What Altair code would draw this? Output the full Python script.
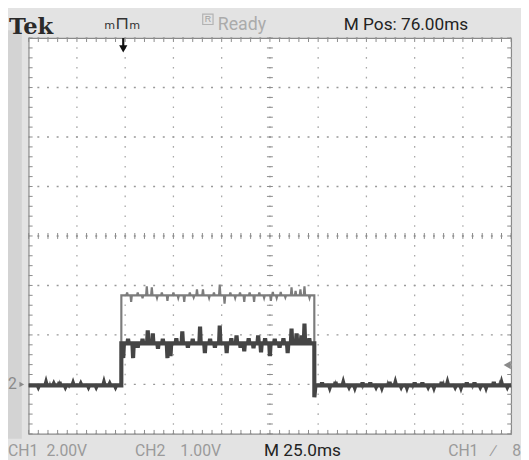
import altair as alt
import pandas as pd

# ---------------- values read from the screen ----------------
# time in ms relative to the trigger (M Pos 76.00ms, 25.0 ms/div)
t_left, t_right = -49.0, 201.0
x_div_times = [-49, -24, 1, 26, 51, 76, 101, 126, 151, 176, 201]
y_div_levels = [-1, 0, 1, 2, 3, 4, 5, 6, 7]   # vertical divisions, 0 = ground of CH2

t_rise = -1.0
t_fall = 99.0

ch1_low = -0.03
ch1_high = 1.80
ch1_under = -0.20
ch1_spike_t = [2.0, 4.1, 7.5, 10.0, 12.2, 14.8, 17.5, 20.0, 22.9, 26.0, 28.5, 31.6, 34.5, 36.5, 38.2, 41.3,
               44.5, 47.0, 50.0, 52.5, 55.5, 58.0, 60.5, 62.7, 65.5, 67.8, 70.5, 73.0, 76.5, 77.5, 79.5,
               81.6, 84.0, 87.2, 89.3, 91.8, 93.9, 96.5]
ch1_spike_v = [1.86, 1.67, 1.86, 1.74, 1.98, 1.96, 1.75, 1.86, 1.69, 1.86, 1.75, 1.67, 1.86, 1.76, 1.92, 1.92,
               1.75, 1.86, 2.02, 1.63, 1.86, 1.75, 1.86, 1.67, 1.86, 1.67, 1.86, 1.75, 1.69, 1.87, 1.75,
               1.87, 1.76, 1.96, 1.89, 1.92, 1.98, 1.75]
ch1_base_t = [-38, -33, -28, 110, 124, 137, 150, 166, 181, 195]
ch1_base_v = [0.01, 0.02, -0.05, 0.02, -0.06, 0.02, -0.06, 0.02, -0.06, 0.02]

ch2_low = -0.02
ch2_high = 0.83
ch2_under = -0.26
ch2_spike_t = [0.0, 2.5, 5.1, 7.5, 10.0, 12.7, 15.3, 18.0, 20.5, 22.9, 24.5, 27.5, 30.6, 33.5, 36.0, 39.8,
               42.3, 45.0, 47.5, 50.0, 53.6, 56.0, 58.7, 60.8, 62.7, 65.0, 67.5, 69.9, 71.4, 73.5, 76.0,
               78.5, 81.0, 83.0, 85.2, 87.2, 89.8, 92.3, 93.9, 96.4]
ch2_spike_v = [0.53, 0.92, 0.53, 0.74, 0.92, 1.09, 1.03, 0.72, 0.92, 0.53, 0.57, 0.93, 1.07, 0.74, 0.92, 1.17,
               0.63, 0.92, 0.74, 1.19, 0.63, 0.93, 0.99, 0.74, 0.67, 0.93, 0.73, 0.99, 0.65, 0.93, 0.57,
               0.92, 0.74, 0.93, 0.63, 1.13, 1.03, 0.99, 1.23, 0.93]
ch2_base_t = [-44, -40, -36, -33, -30, -26, -22, -18, -14, -10, -7, -4, 103, 107, 110, 114, 117, 120, 124, 128,
              131, 134, 138, 141, 144, 147, 151, 155, 158, 161, 165, 168, 172, 175, 178, 182, 185, 188, 192,
              196, 199]
ch2_base_v = [-0.05, 0.03, 0.01, 0.05, -0.05, 0.02, 0.01, -0.05, -0.05, 0.03, 0.01, -0.05, 0.04, -0.06, 0.05,
              0.03, -0.05, -0.06, 0.04, 0.04, -0.05, -0.06, 0.05, 0.03, -0.05, -0.06, 0.04, 0.04, -0.05,
              -0.06, 0.05, 0.03, -0.05, -0.06, 0.04, 0.04, -0.05, -0.06, 0.05, 0.03, -0.05]

trig_level = 0.39

top_labels = ["Tek", "Ready", "M Pos: 76.00ms"]
bottom_labels = ["CH1", "2.00V", "CH2", "1.00V", "M 25.0ms", "CH1", "\u2215", "8"]

# ---------------- build traces ----------------
def build(low, high, under, sp_t, sp_v, b_t, b_v):
    pts = [(t_left, low), (t_rise, low), (t_rise + 0.02, high),
           (t_fall, high), (t_fall + 0.02, under), (t_fall + 0.6, low), (t_right, low)]
    for t, v in list(zip(sp_t, sp_v)) + list(zip(b_t, b_v)):
        lvl = high if t_rise < t < t_fall else low
        pts += [(t - 0.35, lvl), (t, v), (t + 0.35, lvl)]
    pts.sort(key=lambda p: p[0])
    return pd.DataFrame({"t": [p[0] for p in pts], "v": [p[1] for p in pts],
                         "i": list(range(len(pts)))})

ch1 = build(ch1_low, ch1_high, ch1_under, ch1_spike_t, ch1_spike_v, ch1_base_t, ch1_base_v)
ch2 = build(ch2_low, ch2_high, ch2_under, ch2_spike_t, ch2_spike_v, ch2_base_t, ch2_base_v)

W, H = 490, 402
xs = alt.Scale(domain=[t_left, t_right], nice=False, zero=False)
ys = alt.Scale(domain=[-1, 7], nice=False, zero=False)

# graticule
vgrid = alt.Chart(pd.DataFrame({"t": x_div_times})).mark_rule(
    color="#a8a8a8", strokeWidth=1.3, strokeDash=[1.6, 8.45], strokeDashOffset=0.8).encode(
    x=alt.X("t:Q", scale=xs, axis=None), y=alt.value(0), y2=alt.value(H))
hgrid = alt.Chart(pd.DataFrame({"d": y_div_levels})).mark_rule(
    color="#999999", strokeWidth=1.4, strokeDash=[2.0, 7.8], strokeDashOffset=1.0).encode(
    y=alt.Y("d:Q", scale=ys, axis=None), x=alt.value(0), x2=alt.value(W))

# minor tick positions (every 1/5 division)
xminor = pd.DataFrame({"t": [t_left + 5 * k for k in range(51)]})
yminor = pd.DataFrame({"d": [-1 + 0.2 * k for k in range(41)]})

tick_col = "#8a8a8a"
xt = alt.Chart(xminor)
yt = alt.Chart(yminor)
ticks = [
    xt.mark_rule(color=tick_col).encode(x=alt.X("t:Q", scale=xs, axis=None), y=alt.value(H), y2=alt.value(H - 4)),
    xt.mark_rule(color=tick_col).encode(x=alt.X("t:Q", scale=xs, axis=None), y=alt.value(0), y2=alt.value(4)),
    xt.mark_rule(color=tick_col).encode(x=alt.X("t:Q", scale=xs, axis=None), y=alt.value(H / 2 - 3), y2=alt.value(H / 2 + 3)),
    yt.mark_rule(color=tick_col).encode(y=alt.Y("d:Q", scale=ys, axis=None), x=alt.value(0), x2=alt.value(4)),
    yt.mark_rule(color=tick_col).encode(y=alt.Y("d:Q", scale=ys, axis=None), x=alt.value(W - 4), x2=alt.value(W)),
    yt.mark_rule(color=tick_col).encode(y=alt.Y("d:Q", scale=ys, axis=None), x=alt.value(W / 2 - 3), x2=alt.value(W / 2 + 3)),
]

one = pd.DataFrame({"a": [0]})
strip = alt.Chart(one).mark_rect(color="#d3d3d3").encode(
    x=alt.value(-21), x2=alt.value(-7), y=alt.value(-8), y2=alt.value(H + 5))

trace1 = alt.Chart(ch1).mark_line(color="#7c7c7c", strokeWidth=2.2).encode(
    x=alt.X("t:Q", scale=xs, axis=None), y=alt.Y("v:Q", scale=ys, axis=None), order="i:Q")
trace2 = alt.Chart(ch2).mark_line(color="#454545", strokeWidth=4.2).encode(
    x=alt.X("t:Q", scale=xs, axis=None), y=alt.Y("v:Q", scale=ys, axis=None), order="i:Q")

font = "Roboto, Liberation Sans"
txt = []
txt.append(alt.Chart(one).mark_text(text=top_labels[0], font="DejaVu Serif", fontWeight="bold",
                                    fontSize=23, align="left", color="#2a2a2a")
           .encode(x=alt.value(-20), y=alt.value(-11)))
txt.append(alt.Chart(one).mark_text(text="\u2098\u2293\u2098", font="DejaVu Sans", fontSize=18,
                                    align="center", color="#333333")
           .encode(x=alt.value(95), y=alt.value(-14)))
txt.append(alt.Chart(one).mark_point(shape="square", size=110, filled=False, color="#a0a0a0", strokeWidth=1.2)
           .encode(x=alt.value(182), y=alt.value(-19)))
txt.append(alt.Chart(one).mark_text(text="R", font="Liberation Sans", fontSize=9,
                                    align="center", baseline="middle", color="#a0a0a0")
           .encode(x=alt.value(182), y=alt.value(-19)))
txt.append(alt.Chart(one).mark_text(text=top_labels[1], font=font, fontSize=18,
                                    align="left", color="#ababab")
           .encode(x=alt.value(192), y=alt.value(-13)))
txt.append(alt.Chart(one).mark_text(text=top_labels[2], font=font, fontSize=17.5,
                                    align="left", color="#222222")
           .encode(x=alt.value(320), y=alt.value(-13)))
bx = [-21, 18, 108, 154, 239, 426, 471, 491]
bsize = [16, 16, 16, 16, 17.5, 16, 16, 16]
bcol = ["#9a9a9a", "#9a9a9a", "#9a9a9a", "#9a9a9a", "#222222", "#9a9a9a", "#9a9a9a", "#9a9a9a"]
for lab, x0, c, fs in zip(bottom_labels, bx, bcol, bsize):
    txt.append(alt.Chart(one).mark_text(text=lab, font=font, fontSize=fs, align="left", color=c)
               .encode(x=alt.value(x0), y=alt.value(H + 17)))

# trigger position arrow at t = 0
trig = pd.DataFrame({"t": [0.0]})
txt.append(alt.Chart(trig).mark_rule(color="#111111", strokeWidth=2.2).encode(
    x=alt.X("t:Q", scale=xs, axis=None), y=alt.value(0), y2=alt.value(9)))
txt.append(alt.Chart(trig).mark_point(shape="triangle-down", size=70, filled=True, color="#111111", opacity=1).encode(
    x=alt.X("t:Q", scale=xs, axis=None), y=alt.value(11)))
# ground marker for CH2
gnd = pd.DataFrame({"v": [0.0]})
txt.append(alt.Chart(gnd).mark_text(text="2", font=font, fontSize=16, align="left", baseline="middle",
                                    color="#8a8a8a").encode(
    x=alt.value(-21), y=alt.Y("v:Q", scale=ys, axis=None)))
txt.append(alt.Chart(gnd).mark_point(shape="triangle-right", size=30, filled=True, color="#8a8a8a", opacity=1).encode(
    x=alt.value(-7), y=alt.Y("v:Q", scale=ys, axis=None)))
# trigger level marker
tl = pd.DataFrame({"v": [trig_level]})
txt.append(alt.Chart(tl).mark_point(shape="triangle-left", size=70, filled=True, color="#8a8a8a", opacity=1).encode(
    x=alt.value(W - 4), y=alt.Y("v:Q", scale=ys, axis=None)))

chart = alt.layer(strip, vgrid, hgrid, *ticks, trace1, trace2, *txt).properties(
    width=W, height=H,
    padding={"left": 21, "top": 27, "right": 10, "bottom": 23},
    autosize=alt.AutoSizeParams(type="none"),
    background="#e3e3e3",
).configure_view(stroke="#8a8a8a", strokeWidth=1.2, fill="white")

chart.save("out.html", embed_options={"renderer": "svg", "actions": False})
